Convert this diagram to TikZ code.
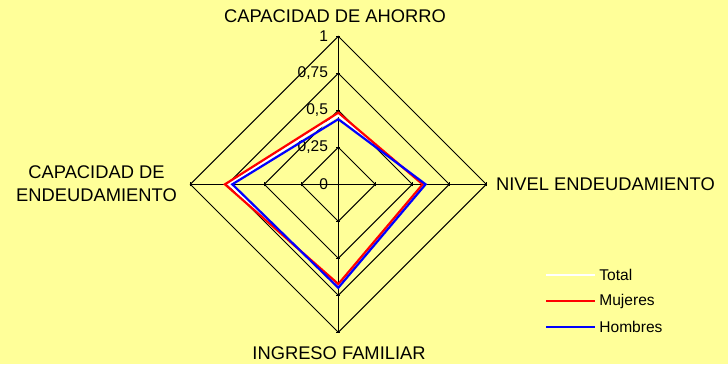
\documentclass[tikz,border=0pt]{standalone}
\usepackage{fontspec}
\setmainfont{Liberation Sans}
\definecolor{chartbg}{HTML}{FFFF99}
\begin{document}
\begin{tikzpicture}
  [x=0.5bp,y=0.5bp,
   axislabel/.style={font=\fontsize{9.2}{11.65}\selectfont,inner sep=0pt},
   ticklabel/.style={font=\fontsize{7.8}{9}\selectfont,anchor=east,inner sep=0pt},
   legendlabel/.style={font=\fontsize{7.8}{9}\selectfont,anchor=west,inner sep=0pt},
   gridline/.style={black,line width=0.5bp},
   serie/.style={line width=1.1bp,line join=miter}]
  \fill[chartbg] (0,0) rectangle (728,364);
  \begin{scope}[shift={(338.3,179.7)}]
  % axis ends
  \coordinate (top) at (90:148);
  \coordinate (right) at (0:148);
  \coordinate (bottom) at (270:148);
  \coordinate (left) at (180:148);
  \coordinate (c) at (0,0);

  % grid
  \foreach \r in {37,74,111,148}
    \draw[gridline] (90:\r) -- (0:\r) -- (270:\r) -- (180:\r) -- cycle;
  \foreach \to in {top,right,bottom,left}
    \draw[gridline] (c) -- (\to);
  \foreach \r in {37,74,111,148} {
    \draw[gridline] (-2,\r) -- (2,\r);
    \draw[gridline] (-2,-\r) -- (2,-\r);
    \draw[gridline] (\r,-2) -- (\r,2);
    \draw[gridline] (-\r,-2) -- (-\r,2);
  }

  % tick labels
  \node[ticklabel] (t0) at (-10,0) {0};
  \node[ticklabel] (t1) at (-10,37) {0,25};
  \node[ticklabel] (t2) at (-10,74) {0,5};
  \node[ticklabel] (t3) at (-10,111) {0,75};
  \node[ticklabel] (t4) at (-10,148) {1};

  % series
  \draw[serie,white] (90:0.465*148) -- (0:0.580*148) -- (270:0.687*148) -- (180:0.741*148) -- cycle;
  \draw[serie,red] (90:0.484*148) -- (0:0.570*148) -- (270:0.674*148) -- (180:0.766*148) -- cycle;
  \draw[serie,blue] (90:0.440*148) -- (0:0.590*148) -- (270:0.699*148) -- (180:0.716*148) -- cycle;
  \end{scope}

  % axis labels
  \node[axislabel,anchor=base] (ahorro) at (335,341.3) {CAPACIDAD DE AHORRO};
  \node[axislabel,anchor=base west] (nivel) at (495.7,173.3) {NIVEL ENDEUDAMIENTO};
  \node[axislabel,anchor=base] (ingreso) at (339,5) {INGRESO FAMILIAR};
  \node[axislabel,align=center] (capacidad) at (96.5,180) {CAPACIDAD DE\\ENDEUDAMIENTO};

  % legend
  \coordinate (l1a) at (546,89);  \coordinate (l1b) at (595,89);
  \coordinate (l2a) at (546,63);  \coordinate (l2b) at (595,63);
  \coordinate (l3a) at (546,37);  \coordinate (l3b) at (595,37);
  \draw[serie,white] (l1a) -- (l1b);
  \draw[serie,red] (l2a) -- (l2b);
  \draw[serie,blue] (l3a) -- (l3b);
  \node[legendlabel] (total) at (599,89) {Total};
  \node[legendlabel] (mujeres) at (599,63) {Mujeres};
  \node[legendlabel] (hombres) at (599,37) {Hombres};
\end{tikzpicture}
\end{document}
